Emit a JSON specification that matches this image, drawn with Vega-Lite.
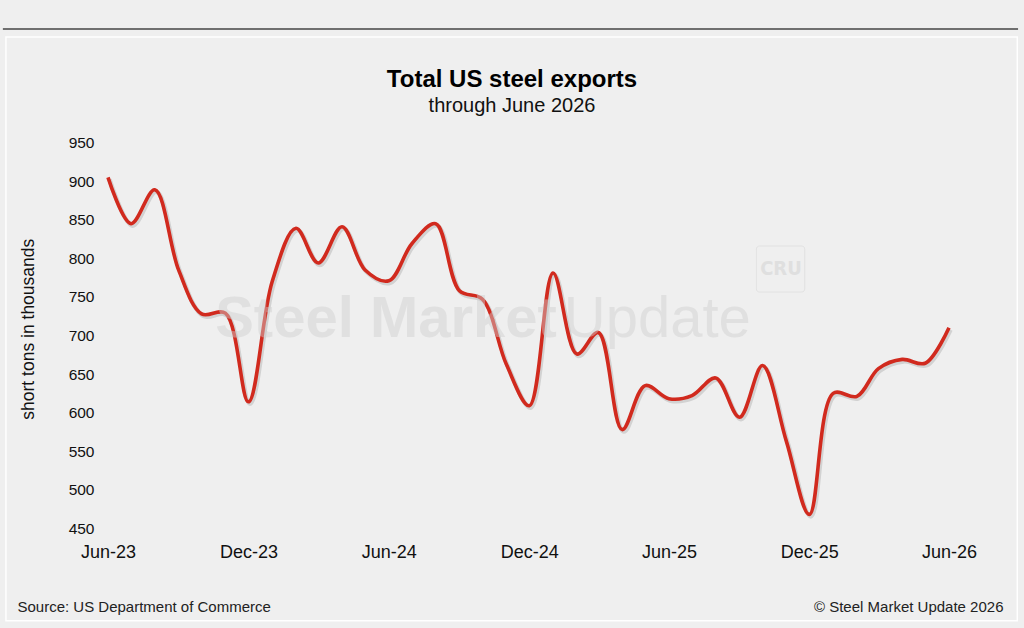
{
  "$schema": "https://vega.github.io/schema/vega-lite/v6.json",
  "width": 841,
  "height": 385.6,
  "autosize": {"type": "none"},
  "padding": {"left": 108, "top": 142.7, "right": 75, "bottom": 99.7},
  "background": "#efefef",
  "config": {
    "view": {"stroke": null},
    "font": "Liberation Sans",
    "axisY": {"labelOverlap": false, "labelFontSize": 15.5, "labelColor": "#111111"},
    "axisX": {"labelOverlap": false, "labelFontSize": 18, "labelColor": "#111111"}
  },
  "title": {
    "text": "Total US steel exports",
    "subtitle": "through June 2026",
    "anchor": "middle",
    "frame": "group",
    "dx": -16.5,
    "offset": -88,
    "fontSize": 24,
    "fontWeight": "bold",
    "color": "#000000",
    "subtitleFontSize": 20,
    "subtitleColor": "#111111",
    "subtitlePadding": 4
  },
  "layer": [
    {
      "data": {"values": [{}]},
      "mark": {"type": "rule", "color": "#444444", "strokeWidth": 1.5},
      "encoding": {
        "x": {
          "datum": {"year": 2023, "month": 1, "date": 15, "utc": true},
          "type": "temporal",
          "scale": {"type": "utc", "domain": [{"year": 2023, "month": 6, "date": 1, "utc": true}, {"year": 2026, "month": 6, "date": 1, "utc": true}]},
          "axis": {
            "title": null,
            "labelExpr": "utcFormat(datum.value, '%b-%y')",
            "values": [
              {"year": 2023, "month": 6, "date": 1, "utc": true},
              {"year": 2023, "month": 12, "date": 1, "utc": true},
              {"year": 2024, "month": 6, "date": 1, "utc": true},
              {"year": 2024, "month": 12, "date": 1, "utc": true},
              {"year": 2025, "month": 6, "date": 1, "utc": true},
              {"year": 2025, "month": 12, "date": 1, "utc": true},
              {"year": 2026, "month": 6, "date": 1, "utc": true}
            ],
            "grid": false,
            "domain": false,
            "ticks": false,
            "tickSize": 0,
            "labelFontSize": 18,
            "labelColor": "#111111",
            "labelPadding": 15,
            "labelFlush": false,
            "labelOverlap": false
          }
        },
        "x2": {"datum": {"year": 2026, "month": 8, "date": 30, "utc": true}},
        "y": {
          "datum": 1097.5,
          "type": "quantitative",
          "scale": {"domain": [450, 950], "nice": false, "zero": false},
          "axis": {
            "title": "short tons in thousands",
            "titleFontSize": 17.5,
            "titleFontWeight": "normal",
            "titleColor": "#111111",
            "titlePadding": 31,
            "titleY": 186,
            "values": [450, 500, 550, 600, 650, 700, 750, 800, 850, 900, 950],
            "tickCount": 11,
            "grid": false,
            "domain": false,
            "ticks": false,
            "tickSize": 0,
            "labelFontSize": 15.5,
            "labelColor": "#111111",
            "labelPadding": 14,
            "labelOverlap": false,
            "labelFlush": false
          }
        }
      }
    },
    {
      "data": {"values": [{}]},
      "mark": {"type": "rect", "filled": false, "stroke": "#ffffff", "strokeWidth": 1.5},
      "encoding": {
        "x": {"datum": {"year": 2023, "month": 1, "date": 19, "utc": true}, "type": "temporal"},
        "x2": {"datum": {"year": 2026, "month": 8, "date": 29, "utc": true}},
        "y": {"datum": 1087, "type": "quantitative"},
        "y2": {"datum": 330}
      }
    },
    {
      "data": {"name": "exports"},
      "mark": {"type": "line", "interpolate": "catmull-rom", "color": "#000000", "opacity": 0.12, "strokeWidth": 4.5, "xOffset": 1.5, "yOffset": 2},
      "encoding": {
        "x": {"field": "date", "type": "temporal"},
        "y": {"field": "exports", "type": "quantitative"}
      }
    },
    {
      "data": {"name": "exports"},
      "mark": {"type": "line", "interpolate": "catmull-rom", "color": "#d12a1e", "strokeWidth": 3.6},
      "encoding": {
        "x": {"field": "date", "type": "temporal"},
        "y": {"field": "exports", "type": "quantitative"}
      }
    },
    {
      "data": {"values": [{}]},
      "mark": {"type": "text", "text": "Steel Market", "align": "right", "baseline": "alphabetic", "fontSize": 58, "fontWeight": "bold", "color": "#cfcfcf", "opacity": 0.45},
      "encoding": {
        "x": {"datum": {"year": 2025, "month": 1, "date": 6, "utc": true}, "type": "temporal"},
        "y": {"datum": 698, "type": "quantitative"}
      }
    },
    {
      "data": {"values": [{}]},
      "mark": {"type": "text", "text": "Update", "align": "left", "baseline": "alphabetic", "fontSize": 58, "fontWeight": "normal", "color": "#cfcfcf", "opacity": 0.45},
      "encoding": {
        "x": {"datum": {"year": 2025, "month": 1, "date": 15, "utc": true}, "type": "temporal"},
        "y": {"datum": 698, "type": "quantitative"}
      }
    },
    {
      "data": {"values": [{}]},
      "mark": {"type": "rect", "filled": false, "stroke": "#d9d9d9", "strokeWidth": 1, "opacity": 0.6, "cornerRadius": 3},
      "encoding": {
        "x": {"datum": {"year": 2025, "month": 9, "date": 23, "utc": true}, "type": "temporal"},
        "x2": {"datum": {"year": 2025, "month": 11, "date": 25, "utc": true}},
        "y": {"datum": 816, "type": "quantitative"},
        "y2": {"datum": 756.4}
      }
    },
    {
      "data": {"values": [{}]},
      "mark": {"type": "text", "text": "CRU", "align": "center", "baseline": "middle", "fontSize": 20, "fontWeight": "bold", "font": "DejaVu Sans Condensed, Liberation Sans, sans-serif", "color": "#d9d9d9", "opacity": 0.7},
      "encoding": {
        "x": {"datum": {"year": 2025, "month": 10, "date": 25, "utc": true}, "type": "temporal"},
        "y": {"datum": 786, "type": "quantitative"}
      }
    },
    {
      "data": {"values": [{}]},
      "mark": {"type": "text", "text": "Source: US Department of Commerce", "align": "left", "baseline": "alphabetic", "fontSize": 15, "color": "#222222"},
      "encoding": {
        "x": {"datum": {"year": 2023, "month": 2, "date": 3, "utc": true}, "type": "temporal"},
        "y": {"datum": 341.4, "type": "quantitative"}
      }
    },
    {
      "data": {"values": [{}]},
      "mark": {"type": "text", "text": "© Steel Market Update 2026", "align": "right", "baseline": "alphabetic", "fontSize": 15, "color": "#222222"},
      "encoding": {
        "x": {"datum": {"year": 2026, "month": 8, "date": 11, "utc": true}, "type": "temporal"},
        "y": {"datum": 341.4, "type": "quantitative"}
      }
    }
  ],
  "datasets": {
    "exports": [
      {"date": "2023-06-01", "exports": 905},
      {"date": "2023-07-01", "exports": 845},
      {"date": "2023-08-01", "exports": 889},
      {"date": "2023-09-01", "exports": 785},
      {"date": "2023-10-01", "exports": 728},
      {"date": "2023-11-01", "exports": 729},
      {"date": "2023-12-01", "exports": 614},
      {"date": "2024-01-01", "exports": 770},
      {"date": "2024-02-01", "exports": 839},
      {"date": "2024-03-01", "exports": 794},
      {"date": "2024-04-01", "exports": 841},
      {"date": "2024-05-01", "exports": 785},
      {"date": "2024-06-01", "exports": 771},
      {"date": "2024-07-01", "exports": 819},
      {"date": "2024-08-01", "exports": 845},
      {"date": "2024-09-01", "exports": 758},
      {"date": "2024-10-01", "exports": 747},
      {"date": "2024-11-01", "exports": 663},
      {"date": "2024-12-01", "exports": 609},
      {"date": "2025-01-01", "exports": 781},
      {"date": "2025-02-01", "exports": 676},
      {"date": "2025-03-01", "exports": 704},
      {"date": "2025-04-01", "exports": 578},
      {"date": "2025-05-01", "exports": 635},
      {"date": "2025-06-01", "exports": 618},
      {"date": "2025-07-01", "exports": 622},
      {"date": "2025-08-01", "exports": 645},
      {"date": "2025-09-01", "exports": 594},
      {"date": "2025-10-01", "exports": 661},
      {"date": "2025-11-01", "exports": 563},
      {"date": "2025-12-01", "exports": 468},
      {"date": "2026-01-01", "exports": 625},
      {"date": "2026-02-01", "exports": 621},
      {"date": "2026-03-01", "exports": 657},
      {"date": "2026-04-01", "exports": 669},
      {"date": "2026-05-01", "exports": 664},
      {"date": "2026-06-01", "exports": 710}
    ]
  }
}
